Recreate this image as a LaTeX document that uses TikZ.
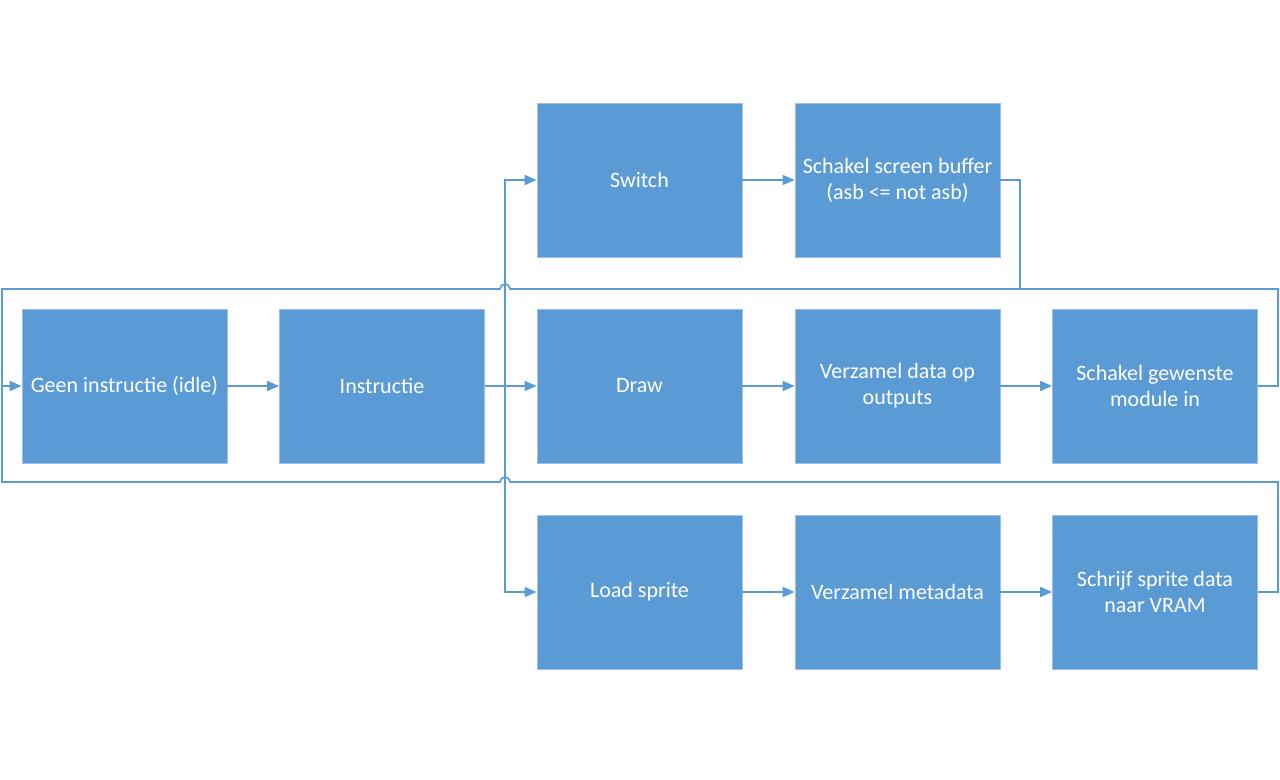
\documentclass[tikz,border=0pt]{standalone}
\usepackage{fontspec}
\setmainfont{Carlito}
\usetikzlibrary{arrows.meta}

\definecolor{blokblauw}{HTML}{5B9BD5}
\definecolor{blokrand}{HTML}{9DBFE3}

\tikzset{
  blok/.style={fill=blokblauw, draw=blokrand, line width=0.6pt, text=white,
    minimum width=153.75pt, minimum height=115.5pt, align=center, inner sep=2pt,
    font=\fontsize{16.5pt}{19.5pt}\selectfont},
  lijn/.style={draw=blokblauw, line width=1.25pt},
  pijl/.style={lijn, -{Triangle[length=9pt,width=7.5pt]}}
}

\begin{document}
\begin{tikzpicture}[x=0.75pt, y=0.75pt]
\useasboundingbox (0,0) rectangle (1280,780);

% Middelste rij
\node[blok] (geen) at (124.5,394) {Geen instructie (idle)};
\node[blok] (instr) at (382,394) {Instructie};
\node[blok] (draw) at (639.5,394) {Draw};
\node[blok] (verzdata) at (897.5,394) {Verzamel data op\\outputs};
\node[blok] (schakelmod) at (1155,394) {Schakel gewenste\\module in};

% Bovenste rij
\node[blok] (switch) at (639.5,600) {Switch};
\node[blok] (schakelbuf) at (897.5,600) {Schakel screen buffer\\(asb <= not asb)};

% Onderste rij
\node[blok] (load) at (639.5,188) {Load sprite};
\node[blok] (verzmeta) at (897.5,188) {Verzamel metadata};
\node[blok] (schrijf) at (1155,188) {Schrijf sprite data\\naar VRAM};

% Vertakking na instructie
\coordinate (split) at (505,394);
\draw[pijl] (geen) -- (instr);
\draw[pijl] (instr) -- (draw);
\draw[pijl] (split) |- (switch.west);
\draw[pijl] (split) |- (load.west);

% Stappen per instructie
\draw[pijl] (switch) -- (schakelbuf);
\draw[pijl] (draw) -- (verzdata);
\draw[pijl] (verzdata) -- (schakelmod);
\draw[pijl] (load) -- (verzmeta);
\draw[pijl] (verzmeta) -- (schrijf);

% Terug naar idle
\coordinate (linksboven) at (2,491);
\coordinate (linksonder) at (2,298);
\draw[lijn] (schakelbuf.east) -| (1020,491);
\draw[pijl] (schakelmod.east) -- ++(20,0) |- (510,491) arc (0:180:3.75pt) -- (linksboven) |- (geen.west);
\draw[lijn] (schrijf.east) -- ++(20,0) |- (510,298) arc (0:180:3.75pt) -- (linksonder) -- (2,394);

\end{tikzpicture}
\end{document}
